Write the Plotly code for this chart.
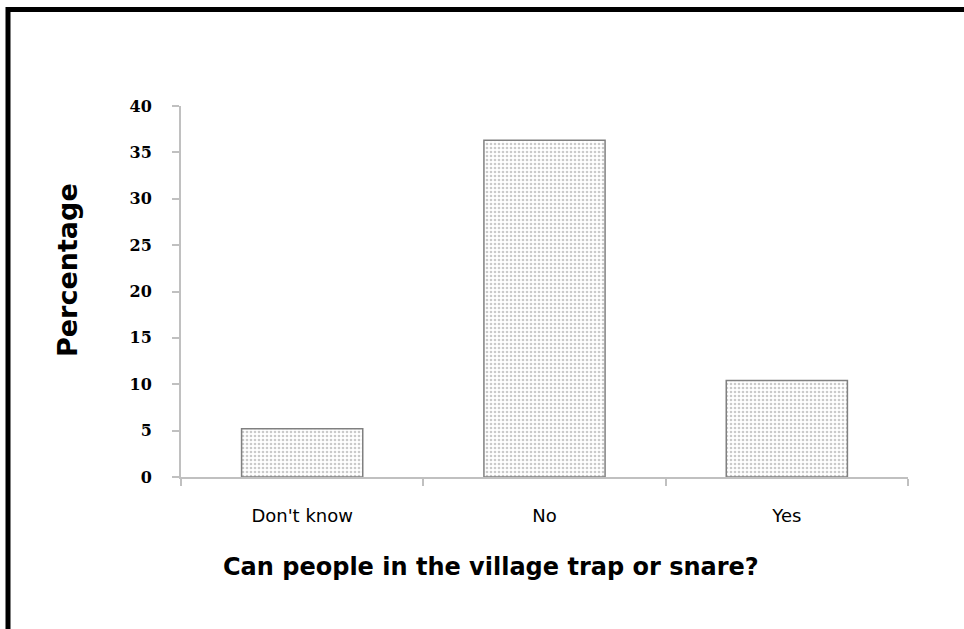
import plotly.graph_objects as go

categories = ["Don't know", "No", "Yes"]
percentages = [5.2, 36.3, 10.4]
y_ticks = [0, 5, 10, 15, 20, 25, 30, 35, 40]

W, H = 964, 629
L, R, T, B = 181, 908, 106, 477

fig = go.Figure()
fig.add_trace(go.Bar(
    x=categories, y=percentages, width=0.5,
    marker=dict(
        color="white",
        line=dict(color="#808080", width=1.5),
        pattern=dict(shape=".", fgcolor="#959595", bgcolor="white", size=4, solidity=0.35),
    ),
    showlegend=False,
))

def px_x(p):
    return (p - L) / (R - L)

def px_y(p):
    return (B - p) / (B - T)

fig.update_layout(
    width=W, height=H,
    margin=dict(l=L, r=W - R, t=T, b=H - B),
    plot_bgcolor="white", paper_bgcolor="white",
    bargap=0.5,
    font=dict(family="DejaVu Sans", color="black"),
    xaxis=dict(
        showline=True, linecolor="#c0c0c0", linewidth=2,
        ticks="outside", ticklen=7, tickcolor="#c0c0c0", tickwidth=2,
        tickson="boundaries", showgrid=False,
        tickfont=dict(family="DejaVu Sans", size=18, color="black"),
        ticklabelstandoff=21,
    ),
    yaxis=dict(
        range=[0, 40], tickvals=y_ticks,
        showline=True, linecolor="#c0c0c0", linewidth=2,
        ticks="outside", ticklen=7, tickcolor="#c0c0c0", tickwidth=2,
        showgrid=False, zeroline=False,
        tickfont=dict(family="DejaVu Serif", size=16, color="black", weight="bold"),
        ticklabelstandoff=17,
    ),
    annotations=[
        dict(text="<b>Can people in the village trap or snare?</b>", xref="paper", yref="paper",
             x=px_x(491), y=px_y(567), showarrow=False,
             font=dict(family="DejaVu Sans", size=24, color="black"),
             xanchor="center", yanchor="middle"),
        dict(text="<b>Percentage</b>", xref="paper", yref="paper",
             x=px_x(67), y=px_y(270), showarrow=False, textangle=-90,
             font=dict(family="DejaVu Sans", size=27, color="black"),
             xanchor="center", yanchor="middle"),
    ],
    shapes=[
        dict(type="line", xref="paper", yref="paper",
             x0=px_x(6), y0=px_y(9.5), x1=px_x(966), y1=px_y(9.5),
             line=dict(color="black", width=5)),
        dict(type="line", xref="paper", yref="paper",
             x0=px_x(8), y0=px_y(7), x1=px_x(8), y1=px_y(640),
             line=dict(color="black", width=5)),
    ],
)

fig.write_html(
    "out.html",
    config={"displayModeBar": False},
    post_script="document.body.style.margin='0';document.body.style.overflow='hidden';",
)
